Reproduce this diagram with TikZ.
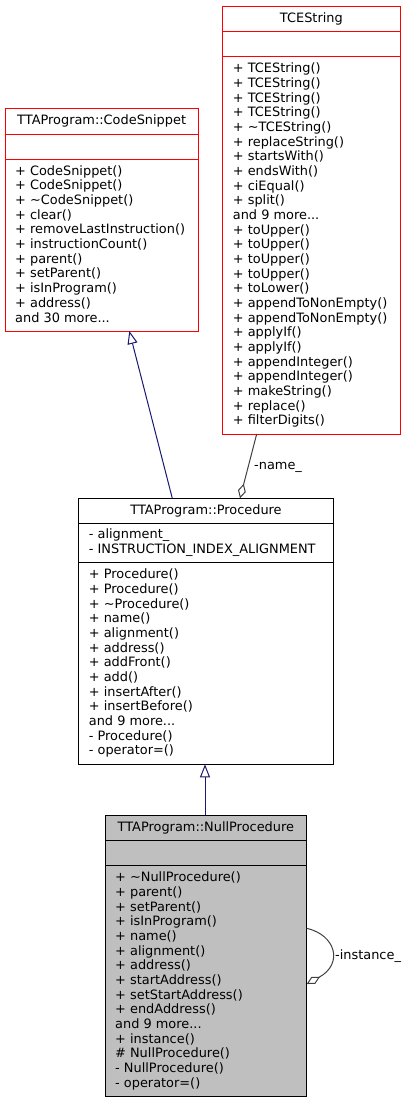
\documentclass[tikz,border=0pt]{standalone}
\usepackage{fontspec}
\setmainfont{DejaVu Sans}
\usetikzlibrary{arrows.meta,calc}
\definecolor{nullfill}{RGB}{191,191,191}
\definecolor{inhcolor}{RGB}{25,25,112}
\definecolor{usecolor}{RGB}{64,64,64}
\newcommand\memberfont{\fontsize{12.9pt}{14.67pt}\selectfont}
\begin{document}
\begin{tikzpicture}[x=1pt,y=-1pt,
  classbox/.style={draw, line width=1pt, inner sep=0pt, outer sep=0pt, anchor=north west},
  titletext/.style={anchor=base, inner sep=0pt, font=\memberfont},
  members/.style={anchor=base west, align=left, inner sep=0pt, font=\memberfont},
  edgelabel/.style={anchor=base west, inner sep=0pt, font=\memberfont},
  inherit/.style={draw=inhcolor, line width=1pt, -{Triangle[open, length=13pt, width=10pt]}},
  aggreg/.style={draw=usecolor, line width=1pt, -{Diamond[open, length=15pt, width=8pt]}}]
\useasboundingbox (0,0) rectangle (408,1103);
\fill[white] (0,0) rectangle (408,1103);

% TCEString (members node anchored at baseline of its last line)
\node[classbox, draw=red, minimum width=177.3pt, minimum height=428pt] (tce) at (222.7,6) {};
\draw[red, line width=1pt] ($(tce.north west)+(0,25.3)$) -- ($(tce.north east)+(0,25.3)$);
\draw[red, line width=1pt] ($(tce.north west)+(0,50.7)$) -- ($(tce.north east)+(0,50.7)$);
\node[titletext] (tcet) at ($(tce.north)+(0,16)$) {TCEString};
\node[members] (tcem) at ($(tce.north west)+(10,418.8)$) {%
+ TCEString()\\+ TCEString()\\+ TCEString()\\+ TCEString()\\+ \textasciitilde TCEString()\\%
+ replaceString()\\+ startsWith()\\+ endsWith()\\+ ciEqual()\\+ split()\\and 9 more...\\%
+ toUpper()\\+ toUpper()\\+ toUpper()\\+ toUpper()\\+ toLower()\\%
+ appendToNonEmpty()\\+ appendToNonEmpty()\\+ applyIf()\\+ applyIf()\\%
+ appendInteger()\\+ appendInteger()\\+ makeString()\\+ replace()\\+ filterDigits()};

% CodeSnippet
\node[classbox, draw=red, minimum width=193.3pt, minimum height=222.3pt] (cs) at (5,108.7) {};
\draw[red, line width=1pt] ($(cs.north west)+(0,25.3)$) -- ($(cs.north east)+(0,25.3)$);
\draw[red, line width=1pt] ($(cs.north west)+(0,50.6)$) -- ($(cs.north east)+(0,50.6)$);
\node[titletext] (cst) at ($(cs.north)+(0,16)$) {TTAProgram::CodeSnippet};
\node[members] (csm) at ($(cs.north west)+(10,213.3)$) {%
+ CodeSnippet()\\+ CodeSnippet()\\+ \textasciitilde CodeSnippet()\\+ clear()\\%
+ removeLastInstruction()\\+ instructionCount()\\+ parent()\\+ setParent()\\%
+ isInProgram()\\+ address()\\and 30 more...};

% Procedure
\node[classbox, draw=black, minimum width=254.6pt, minimum height=266pt] (proc) at (78.7,498.3) {};
\draw[black, line width=1pt] ($(proc.north west)+(0,25)$) -- ($(proc.north east)+(0,25)$);
\draw[black, line width=1pt] ($(proc.north west)+(0,64.4)$) -- ($(proc.north east)+(0,64.4)$);
\node[titletext] (proct) at ($(proc.north)+(0,16)$) {TTAProgram::Procedure};
\node[members] (proca) at ($(proc.north west)+(10,55.2)$) {%
- alignment\_\\- INSTRUCTION\_INDEX\_ALIGNMENT};
\node[members] (procm) at ($(proc.north west)+(10,256.4)$) {%
+ Procedure()\\+ Procedure()\\+ \textasciitilde Procedure()\\+ name()\\+ alignment()\\%
+ address()\\+ addFront()\\+ add()\\+ insertAfter()\\+ insertBefore()\\and 9 more...\\%
- Procedure()\\- operator=()};

% NullProcedure
\node[classbox, draw=black, fill=nullfill, minimum width=201.7pt, minimum height=281pt] (null) at (105,815) {};
\draw[black, line width=1pt] ($(null.north west)+(0,25.7)$) -- ($(null.north east)+(0,25.7)$);
\draw[black, line width=1pt] ($(null.north west)+(0,50.7)$) -- ($(null.north east)+(0,50.7)$);
\node[titletext] (nullt) at ($(null.north)+(0,16)$) {TTAProgram::NullProcedure};
\node[members] (nullm) at ($(null.north west)+(10,272.1)$) {%
+ \textasciitilde NullProcedure()\\+ parent()\\+ setParent()\\+ isInProgram()\\+ name()\\%
+ alignment()\\+ address()\\+ startAddress()\\+ setStartAddress()\\+ endAddress()\\%
and 9 more...\\+ instance()\\\# NullProcedure()\\- NullProcedure()\\- operator=()};

% Edges
\draw[inherit] ($(proc.north west)+(93.6,0)$) -- ($(cs.south west)+(124.3,0)$);
\draw[inherit] ($(null.north west)+(100,0)$) -- ($(proc.south west)+(126.3,0)$);
\draw[aggreg] ($(tce.south west)+(34,0)$) -- ($(proc.north west)+(161.3,0)$);
\node[edgelabel] (namelbl) at (254,469) {-name\_};
\draw[aggreg] ($(null.north east)+(0,113.3)$) .. controls ($(null.north east)+(29.3,120)$) and ($(null.north east)+(36.8,149)$) .. ($(null.north east)+(0,169)$);
\node[edgelabel] (instlbl) at (335,959) {-instance\_};
\end{tikzpicture}
\end{document}
